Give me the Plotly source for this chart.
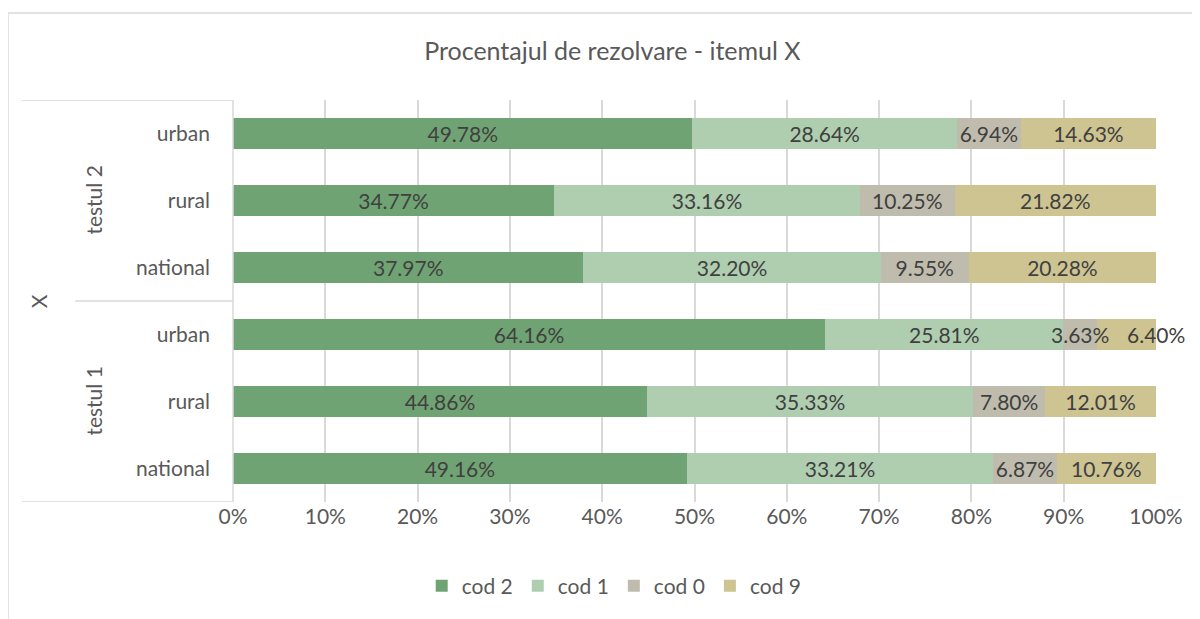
import plotly.graph_objects as go

# ---- data ----
groups = ["testul 1", "testul 2"]
row_labels = ["national", "rural", "urban", "national", "rural", "urban"]
series_names = ["cod 2", "cod 1", "cod 0", "cod 9"]
cod2 = [49.16, 44.86, 64.16, 37.97, 34.77, 49.78]
cod1 = [33.21, 35.33, 25.81, 32.20, 33.16, 28.64]
cod0 = [6.87, 7.80, 3.63, 9.55, 10.25, 6.94]
cod9 = [10.76, 12.01, 6.40, 20.28, 21.82, 14.63]
x_ticks = [0, 0.1, 0.2, 0.3, 0.4, 0.5, 0.6, 0.7, 0.8, 0.9, 1.0]
colors = ["#70A373", "#AFCEB0", "#BFBCAD", "#CDC492"]

FONT = "Lato, Carlito, Calibri, sans-serif"
TXT = "#404040"
AX = "#595959"
LINE = "#D9D9D9"

ypos = list(range(len(row_labels)))
all_series = [cod2, cod1, cod0, cod9]
fig = go.Figure()
annotations = []
for si, (name, vals, col) in enumerate(zip(series_names, all_series, colors)):
    last = si == len(all_series) - 1
    positions = []
    for i, v in enumerate(vals):
        start = sum(s[i] for s in all_series[:si]) / 100
        end = start + v / 100
        if last and v < 7:
            # small last segment: label sits over the bar end (as in Excel)
            positions.append("none")
            annotations.append(dict(text=f"{v:.2f}%", xref="x", yref="y",
                                    x=end, y=ypos[i], xanchor="center",
                                    yanchor="middle", showarrow=False,
                                    font=dict(family=FONT, size=21, color=TXT)))
        elif v < 5:
            # narrow segment: label overflows, drawn above neighbouring bars
            positions.append("none")
            annotations.append(dict(text=f"{v:.2f}%", xref="x", yref="y",
                                    x=(start + end) / 2, y=ypos[i], xanchor="center",
                                    yanchor="middle", showarrow=False,
                                    font=dict(family=FONT, size=21, color=TXT)))
        else:
            positions.append("inside")
    fig.add_trace(go.Bar(
        name=name, orientation="h",
        x=[v / 100 for v in vals], y=ypos,
        marker=dict(color=col, line=dict(width=0)),
        text=[f"{v:.2f}%" for v in vals],
        textposition=positions, insidetextanchor="middle",
        constraintext="none", cliponaxis=False,
        textfont=dict(family=FONT, size=21, color=TXT),
        hoverinfo="x+name",
    ))

shapes = []
# outer chart border
shapes.append(dict(type="rect", xref="paper", yref="paper",
                   x0=-0.2438, x1=1.2, y0=-0.6, y1=1.2164,
                   line=dict(color=LINE, width=1.5), layer="below"))
# hierarchical category axis lines
for yv, x0 in [(-0.5, -0.229), (5.5, -0.229), (2.5, -0.171)]:
    shapes.append(dict(type="line", xref="paper", yref="y",
                       x0=x0, x1=0, y0=yv, y1=yv,
                       line=dict(color=LINE, width=1.5)))
shapes.append(dict(type="line", xref="paper", yref="y",
                   x0=0, x1=0, y0=-0.5, y1=5.5,
                   line=dict(color=LINE, width=1.5)))

for gi, g in enumerate(groups):
    annotations.append(dict(text=g, xref="paper", yref="y",
                            x=-0.1516, y=gi * 3 + 1, textangle=-90,
                            xanchor="center", yanchor="middle",
                            showarrow=False,
                            font=dict(family=FONT, size=21, color=AX)))
annotations.append(dict(text="X", xref="paper", yref="y",
                        x=-0.211, y=2.5, textangle=-90, showarrow=False,
                        xanchor="center", yanchor="middle",
                        font=dict(family=FONT, size=21, color=AX)))

fig.update_layout(
    width=1192, height=611,
    margin=dict(l=225, r=44, t=92, b=117),
    paper_bgcolor="white", plot_bgcolor="white",
    barmode="stack", bargap=0.55,
    title=dict(text="Procentajul de rezolvare - itemul X", x=0.507, xanchor="center",
               y=0.93, yanchor="middle",
               font=dict(family=FONT, size=25, color=AX)),
    xaxis=dict(range=[0, 1], tickvals=x_ticks, tickformat=".0%",
               showgrid=True, gridcolor=LINE, gridwidth=1.5,
               zeroline=False, showline=False, ticks="",
               tickfont=dict(family=FONT, size=21, color=AX)),
    yaxis=dict(range=[-0.5, 5.5], tickvals=ypos, ticktext=row_labels,
               showgrid=False, zeroline=False, showline=False, ticks="",
               ticklabelstandoff=22,
               tickfont=dict(family=FONT, size=21, color=AX)),
    legend=dict(orientation="h", x=0.413, xanchor="center", y=-0.158, yanchor="top",
                font=dict(family=FONT, size=21, color=AX),
                itemwidth=30, traceorder="normal"),
    shapes=shapes, annotations=annotations,
)
fig.write_html("out.html")
